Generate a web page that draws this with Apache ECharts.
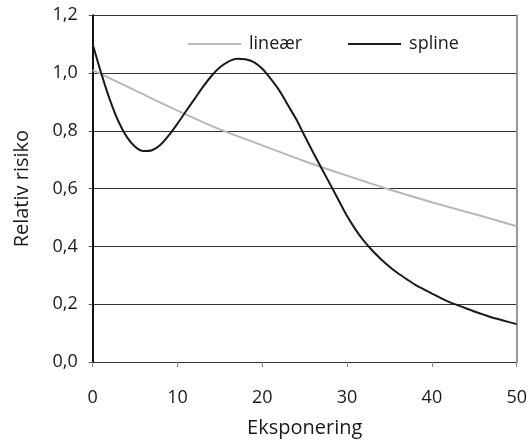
<!DOCTYPE html>
<html>
<head>
<meta charset="utf-8">
<script src="https://cdn.jsdelivr.net/npm/echarts@6/dist/echarts.min.js"></script>
<style>
html,body{margin:0;padding:0;background:#fff;}
#c{width:532px;height:443px;}
</style>
</head>
<body>
<div id="c"></div>
<script>
// Exposure values (x)
var linX = [0, 5, 10, 15, 20, 25, 30, 35, 40, 45, 50];
var linY = [1.01, 0.94, 0.87, 0.805, 0.75, 0.695, 0.645, 0.597, 0.553, 0.512, 0.47];

var splX = [0,1,2,3,4,5,6,7,8,9,10,11,12,13,14,15,16,17,18,19,20,21,22,23,24,25,26,27,28,29,30,31,32,33,34,35,36,37,38,39,40,41,42,43,44,45,46,47,48,49,50];
var splY = [1.10,1.00,0.91,0.835,0.78,0.745,0.73,0.733,0.752,0.785,0.825,0.868,0.91,0.952,0.99,1.02,1.04,1.05,1.048,1.038,1.015,0.98,0.94,0.89,0.84,0.782,0.725,0.67,0.615,0.56,0.505,0.458,0.418,0.385,0.356,0.33,0.307,0.287,0.268,0.252,0.237,0.222,0.208,0.197,0.186,0.175,0.165,0.155,0.147,0.139,0.131];

var seriesNames = ['lineær', 'spline'];
var xName = 'Eksponering';
var yName = 'Relativ risiko';

function pairs(xs, ys){ return xs.map(function(x,i){ return [x, ys[i]]; }); }

var font = '"Open Sans", "Noto Sans", sans-serif';
var chart = echarts.init(document.getElementById('c'), null, {renderer:'canvas'});
chart.setOption({
  animation: false,
  backgroundColor: '#fff',
  grid: {left: 92.7, right: 15.3, top: 15.3, bottom: 76.3},
  legend: {
    data: seriesNames,
    left: 183, top: 30,
    itemWidth: 53, itemHeight: 2, itemGap: 46,
    icon: 'rect',
    textStyle: {fontFamily: font, fontSize: 18, color: '#1a1a1a', padding: [0,0,0,3]}
  },
  xAxis: {
    type: 'value', min: 0, max: 50, interval: 10,
    name: xName, nameLocation: 'middle', nameGap: 56,
    nameTextStyle: {fontFamily: font, fontSize: 20, color: '#1a1a1a'},
    axisLine: {show: true, lineStyle: {color: '#333', width: 1}},
    axisTick: {show: true, length: 5, lineStyle: {color: '#888'}},
    axisLabel: {fontFamily: font, fontSize: 18, color: '#1a1a1a', margin: 27},
    splitLine: {show: false}
  },
  yAxis: [{
    type: 'value', min: 0, max: 1.2, interval: 0.2,
    name: yName, nameLocation: 'middle', nameGap: 60,
    nameTextStyle: {fontFamily: font, fontSize: 20, color: '#1a1a1a'},
    axisLine: {show: true, lineStyle: {color: '#111', width: 2}},
    axisTick: {show: true, length: 4, lineStyle: {color: '#555'}},
    axisLabel: {fontFamily: font, fontSize: 18, color: '#1a1a1a', margin: 15,
      formatter: function(v){ return v.toFixed(1).replace('.', ','); }},
    splitLine: {show: true, lineStyle: {color: '#333', width: 1}}
  },{
    type: 'value', min: 0, max: 1.2, interval: 0.2, position: 'right',
    axisLine: {show: true, lineStyle: {color: '#999', width: 2}},
    axisTick: {show: false}, axisLabel: {show: false}, splitLine: {show: false}
  }],
  series: [{
    name: seriesNames[0], type: 'line', data: pairs(linX, linY), smooth: 0.3,
    showSymbol: false, symbol: 'none',
    lineStyle: {color: '#b8b8b8', width: 2}, itemStyle: {color: '#b8b8b8'}, z: 3
  },{
    name: seriesNames[1], type: 'line', data: pairs(splX, splY), smooth: 0.3,
    showSymbol: false, symbol: 'none',
    lineStyle: {color: '#1a1a1a', width: 2}, itemStyle: {color: '#1a1a1a'}, z: 4
  }]
});
</script>
</body>
</html>
